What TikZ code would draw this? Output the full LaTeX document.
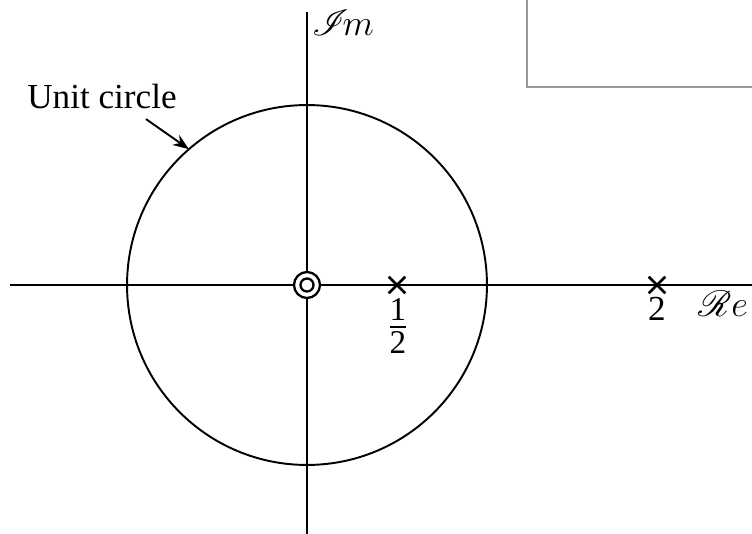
\documentclass[tikz,border=0pt]{standalone}
\usepackage{amsmath,mathrsfs}
\usepackage{fontspec}
\setmainfont{Liberation Serif}
\usetikzlibrary{shapes.misc,calc,arrows.meta}
\tikzset{
  pole/.style={cross out,draw,line width=1.5pt,minimum size=0.28cm,inner sep=0pt},
  lbl/.style={font=\fontsize{20}{24}\selectfont,inner sep=1pt}
}

\begin{document}
\begin{tikzpicture}[x=0.02cm,y=-0.02cm,line width=1.1pt]
  \useasboundingbox (0,0) rectangle (752,534);
  % frame in the corner
  \draw[gray!80,line width=0.9pt] (527,-5) -- (527,87) -- (760,87);
  % axes
  \coordinate (O) at (307,285);
  \coordinate (xl) at (10,285);
  \coordinate (xr) at (752,285);
  \coordinate (yt) at (307,12);
  \coordinate (yb) at (307,534);
  \draw (xl) -- (xr);
  \draw (yt) -- (yb);
  % unit circle
  \draw (O) circle (3.6cm);
  \coordinate (onc) at ($(O)+(131:3.6cm)$);
  % double zero at the origin
  \fill[white] (O) circle (0.27cm);
  \draw[line width=1.3pt] (O) circle (0.26cm);
  \draw[line width=1.3pt] (O) circle (0.13cm);
  % poles
  \node[pole] (p1) at (397,285) {};
  \node[pole] (p2) at (657,285) {};
  % labels
  \node[lbl] (im) at (343,23) {$\mathscr{I}\!m$};
  \node[lbl] (re) at (723,304) {$\mathscr{R}e$};
  \node[lbl,font=\fontsize{27}{30}\selectfont] (half) at (398,326) {$\frac{\text{1}}{\text{2}}$};
  \node[lbl] (two) at (657,309) {2};
  \node[lbl] (uc) at (102,96) {Unit circle};
  \coordinate (ucs) at ($(uc.south)+(44,8)$);
  \draw[-{Stealth[length=3.2mm,width=2.4mm]}] (ucs) -- (onc);
\end{tikzpicture}
\end{document}
